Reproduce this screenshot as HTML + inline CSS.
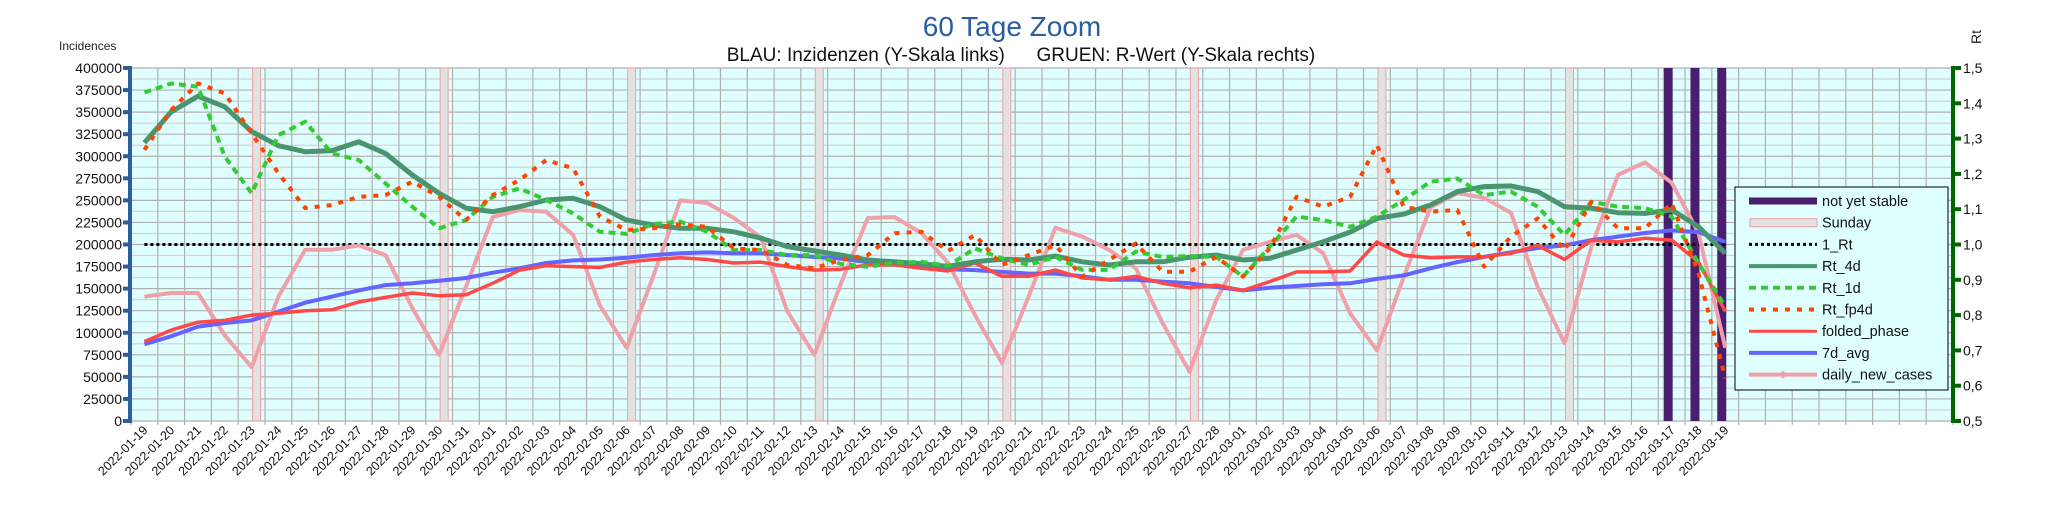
<!DOCTYPE html>
<html><head><meta charset="utf-8"><style>
html,body{margin:0;padding:0;background:#fff;}
svg{display:block;font-family:"Liberation Sans",sans-serif;}
</style></head><body>
<svg id="chart" width="2048" height="527" viewBox="0 0 2048 527" xmlns="http://www.w3.org/2000/svg">
<text x="1012" y="36" font-size="28" fill="#2a5f9e" text-anchor="middle">60 Tage Zoom</text>
<text x="1021" y="61" font-size="19" fill="#111" text-anchor="middle" style="white-space:pre" xml:space="preserve">BLAU: Inzidenzen (Y-Skala links)      GRUEN: R-Wert (Y-Skala rechts)</text>
<text x="59" y="50" font-size="12" fill="#222">Incidences</text>
<text transform="translate(1981,44) rotate(-90)" font-size="14" fill="#222">Rt</text>
<g id="plot"></g>
</svg>
<script>
const dates=[];
(function(){const d=new Date(Date.UTC(2022,0,19));for(let i=0;i<60;i++){dates.push(d.toISOString().slice(0,10));d.setUTCDate(d.getUTCDate()+1);}})();
const leftTicks=[0,25000,50000,75000,100000,125000,150000,175000,200000,225000,250000,275000,300000,325000,350000,375000,400000];
const rightTicks=["0,5","0,6","0,7","0,8","0,9","1,0","1,1","1,2","1,3","1,4","1,5"];
const sundays=["2022-01-23","2022-01-30","2022-02-06","2022-02-13","2022-02-20","2022-02-27","2022-03-06","2022-03-13"];
const notStable=["2022-03-17","2022-03-18","2022-03-19"];
const dailyNewCases=[141,145,145,97,61,141,194,194,199,188,128,75,152,231,239,237,211,131,83,165,250,247,230,208,124,75,156,230,231,213,179,120,66,141,219,209,194,173,111,56,137,194,203,211,190,122,80,163,242,258,253,236,152,88,197,279,293,270,213,83].map(v=>v*1000);
const avg7d=[87,96,107,111,114,124,134,141,148,154,156,159,162,168,173,179,182,183,185,188,190,191,190,190,188,186,184,180,179,175,172,171,169,167,167,164,160,160,158,156,152,148,151,153,155,156,161,165,173,180,186,191,196,199,205,209,213,216,214,203].map(v=>v*1000);
const foldedPhase=[90,103,112,114,120,122,125,126,135,140,145,142,143,156,171,176,175,174,180,183,185,183,179,180,175,171,172,177,177,173,170,179,164,164,171,162,160,164,156,151,154,148,158,169,169,170,203,188,185,186,186,190,199,183,205,203,207,205,180,124].map(v=>v*1000);
const rt4d=[1.288,1.376,1.420,1.390,1.320,1.280,1.263,1.266,1.291,1.258,1.197,1.145,1.103,1.093,1.107,1.126,1.131,1.107,1.069,1.055,1.046,1.046,1.036,1.018,0.994,0.982,0.970,0.956,0.951,0.945,0.938,0.951,0.958,0.956,0.967,0.951,0.942,0.951,0.951,0.964,0.970,0.956,0.961,0.984,1.008,1.035,1.074,1.086,1.112,1.150,1.164,1.166,1.150,1.107,1.103,1.090,1.088,1.098,1.050,0.975];
const rt1d=[1.431,1.456,1.447,1.249,1.145,1.310,1.348,1.258,1.239,1.173,1.107,1.046,1.069,1.135,1.159,1.126,1.088,1.036,1.030,1.058,1.065,1.036,0.984,0.984,0.970,0.970,0.945,0.937,0.948,0.951,0.940,0.989,0.961,0.942,0.965,0.928,0.928,0.980,0.965,0.967,0.965,0.909,0.994,1.079,1.069,1.050,1.079,1.126,1.178,1.187,1.140,1.150,1.107,1.027,1.121,1.107,1.103,1.079,0.947,0.824];
const rtFp4d=[1.268,1.381,1.456,1.428,1.315,1.202,1.103,1.112,1.135,1.140,1.178,1.135,1.069,1.140,1.183,1.239,1.216,1.079,1.041,1.046,1.057,1.050,0.989,0.984,0.942,0.933,0.956,0.970,1.032,1.036,0.982,1.027,0.942,0.970,0.998,0.909,0.956,1.003,0.923,0.923,0.965,0.909,0.989,1.135,1.107,1.135,1.282,1.107,1.093,1.098,0.937,1.022,1.074,0.984,1.121,1.046,1.046,1.117,0.918,0.621];

const NS="http://www.w3.org/2000/svg";
const L=131,R=1953,T=68,B=421,NCAT=68,CW=(R-L)/NCAT;
const xAt=i=>L+CW*(i+0.5);
const yL=v=>B-(v/400000)*(B-T);
const yR=r=>B-((r-0.5)/1.0)*(B-T);
const g=document.getElementById('plot');
function mk(tag,attrs,parent){const e=document.createElementNS(NS,tag);for(const k in attrs)e.setAttribute(k,attrs[k]);(parent||g).appendChild(e);return e;}

const bg=mk('rect',{x:L,y:T,width:R-L,height:B-T,fill:'#dfffff'});


for(let k=0;k<=32;k++){const y=B-k*(B-T)/32;const ln=mk('line',{x1:L,x2:R,y1:y,y2:y,stroke:k%2?'#d4d4d4':'#b0b0b0','stroke-width':1.2});

}
for(let k=0;k<=NCAT;k++){const x=L+k*CW;const ln=mk('line',{x1:x,x2:x,y1:T,y2:B+4,stroke:'#b0b0b0','stroke-width':1.2});

}
sundays.forEach(s=>{const i=dates.indexOf(s);const r=mk('rect',{x:xAt(i)+1,y:T,width:8,height:B-T,fill:'#e2e2e2',stroke:'#f0a0a0','stroke-width':1});

});
notStable.forEach(s=>{const i=dates.indexOf(s);const r=mk('rect',{x:xAt(i)-8,y:T,width:9,height:B-T,fill:'#4a1e6e'});

});
const oneRt=mk('line',{x1:xAt(0),x2:xAt(59),y1:yR(1),y2:yR(1),stroke:'#000','stroke-width':3,'stroke-dasharray':'3,3'});


function series(vals,yf,stroke,w,dash,name){const pts=vals.map((v,i)=>xAt(i).toFixed(1)+','+yf(v).toFixed(1)).join(' ');
const a={points:pts,fill:'none',stroke:stroke,'stroke-width':w,'stroke-linejoin':'round'};if(dash)a['stroke-dasharray']=dash;
const p=mk('polyline',a);

}
series(dailyNewCases,yL,'#f0a0a8',4,null,'daily-new-cases-line');
series(avg7d,yL,'#6464ff',4,null,'7d-avg-line');
series(foldedPhase,yL,'#ff4848',3.5,null,'folded-phase-line');
series(rt4d,yR,'#4a9470',5,null,'rt-4d-line');
series(rt1d,yR,'#33cc33',4,'7,5','rt-1d-line');
series(rtFp4d,yR,'#ff4500',4,'5,7','rt-fp4d-line');
const la=mk('line',{x1:L-1,x2:L-1,y1:T-2,y2:B+2,stroke:'#2b5f9e','stroke-width':4});


leftTicks.forEach(v=>{const y=yL(v);mk('line',{x1:L-8,x2:L,y1:y,y2:y,stroke:'#2b5f9e','stroke-width':4});
const t=mk('text',{x:L-9,y:y+5,'font-size':14,'text-anchor':'end',fill:'#111'});t.textContent=v;

});
const ra=mk('line',{x1:R,x2:R,y1:T-2,y2:B+2,stroke:'#006400','stroke-width':4});


rightTicks.forEach((lab,k)=>{const y=B-k*(B-T)/10;mk('line',{x1:R,x2:R+8,y1:y,y2:y,stroke:'#006400','stroke-width':4});
const t=mk('text',{x:R+10,y:y+5,'font-size':14,fill:'#111'});t.textContent=lab;

});
dates.forEach((d,i)=>{const x=xAt(i)+4,y=431;const t=mk('text',{x:x,y:y,'font-size':12.5,'text-anchor':'end',fill:'#111',transform:`rotate(-45 ${x} ${y})`});t.textContent=d;

});
const lg=mk('g',{});


mk('rect',{x:1735,y:187,width:213,height:203,fill:'#dfffff',stroke:'#000','stroke-width':1},lg);
const legendItems=[['not yet stable','#4a1e6e',7,null],['Sunday','#e2e2e2',7,null],['1_Rt','#000',3,'3,3'],['Rt_4d','#4a9470',4,null],['Rt_1d','#33cc33',4,'7,5'],['Rt_fp4d','#ff4500',4,'5,7'],['folded_phase','#ff4848',3,null],['7d_avg','#6464ff',4,null],['daily_new_cases','#f0a0a8',4,null]];
legendItems.forEach((it,k)=>{const y=201+k*21.7;
if(it[0]==='Sunday'){mk('rect',{x:1750,y:y-4,width:67,height:8,fill:'#e2e2e2',stroke:'#f0a0a0'},lg);}
else{const a={x1:1749,x2:1817,y1:y,y2:y,stroke:it[1],'stroke-width':it[2]};if(it[3])a['stroke-dasharray']=it[3];mk('line',a,lg);}
if(it[0]==='daily_new_cases')mk('path',{d:`M1783 ${y-4} L1787 ${y} L1783 ${y+4} L1779 ${y} Z`,fill:'#f0a0a8'},lg);
const t=mk('text',{x:1822,y:y+5,'font-size':14.5,fill:'#111'},lg);t.textContent=it[0];

});
</script>
</body></html>
